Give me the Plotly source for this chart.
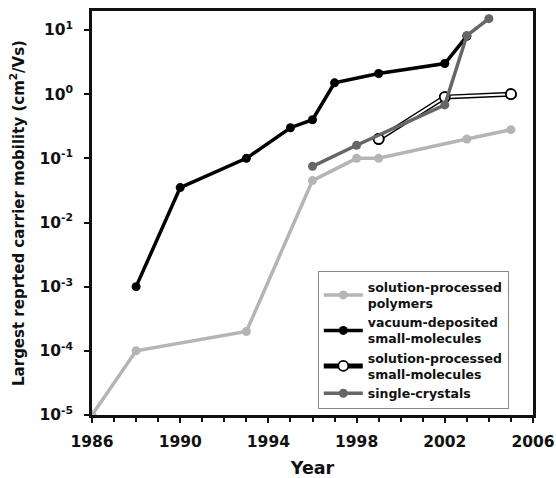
import plotly.graph_objects as go

# Record carrier mobilities (cm^2/Vs) by year for each class of organic semiconductor
poly_years = [1986, 1988, 1993, 1996, 1998, 1999, 2003, 2005]
poly_mob = [1e-5, 1e-4, 2e-4, 0.045, 0.1, 0.1, 0.2, 0.28]

vac_years = [1988, 1990, 1993, 1995, 1996, 1997, 1999, 2002, 2003]
vac_mob = [1e-3, 0.035, 0.1, 0.3, 0.4, 1.5, 2.1, 3.0, 8.0]

solsm_years = [1999, 2002, 2005]
solsm_mob = [0.2, 0.9, 1.0]

xtal_years = [1996, 1998, 2002, 2003, 2004]
xtal_mob = [0.075, 0.16, 0.68, 8.2, 15.0]

year_ticks = [1986, 1990, 1994, 1998, 2002, 2006]
mob_ticks = [1e-5, 1e-4, 1e-3, 1e-2, 1e-1, 1, 10]
mob_tick_text = ["10<sup>-5</sup>", "10<sup>-4</sup>", "10<sup>-3</sup>", "10<sup>-2</sup>",
                 "10<sup>-1</sup>", "10<sup>0</sup>", "10<sup>1</sup>"]

FONT = "DejaVu Sans"

fig = go.Figure()

fig.add_trace(go.Scatter(
    x=poly_years, y=poly_mob, mode="lines+markers",
    name="solution-processed<br>polymers",
    line=dict(color="#b5b5b5", width=3.5),
    marker=dict(color="#b5b5b5", size=9),
))

fig.add_trace(go.Scatter(
    x=vac_years, y=vac_mob, mode="lines+markers",
    name="vacuum-deposited<br>small-molecules",
    line=dict(color="#000000", width=3.5),
    marker=dict(color="#000000", size=9),
))

# outlined line: a thick black stroke with a thinner white stroke on top
fig.add_trace(go.Scatter(
    x=solsm_years, y=solsm_mob, mode="lines+markers",
    name="solution-processed<br>small-molecules",
    line=dict(color="#000000", width=5),
    marker=dict(color="white", size=10, line=dict(color="#000000", width=1.8)),
))
fig.add_trace(go.Scatter(
    x=solsm_years, y=solsm_mob, mode="lines+markers",
    showlegend=False, hoverinfo="skip",
    line=dict(color="white", width=2),
    marker=dict(color="white", size=10, line=dict(color="#000000", width=1.8)),
))

fig.add_trace(go.Scatter(
    x=xtal_years, y=xtal_mob, mode="lines+markers",
    name="single-crystals",
    line=dict(color="#666666", width=3.5),
    marker=dict(color="#666666", size=9),
))

fig.update_layout(
    width=556, height=478,
    margin=dict(l=92, r=23, t=11, b=63),
    paper_bgcolor="white", plot_bgcolor="white",
    font=dict(family=FONT, color="#111111", weight="bold"),
    legend=dict(
        x=0.512, y=0.356, xanchor="left", yanchor="top",
        bgcolor="white", bordercolor="#888888", borderwidth=1,
        font=dict(family=FONT, size=12.5, color="#111111", weight="bold"),
        tracegroupgap=0, itemwidth=39,
    ),
    xaxis=dict(
        range=[1986, 2006], tickmode="array", tickvals=year_ticks,
        minor=dict(dtick=1, ticks="outside", ticklen=4, tickcolor="#111111"),
        ticks="outside", ticklen=5, tickwidth=1.5, tickcolor="#111111",
        showline=True, linecolor="#111111", linewidth=2.5, mirror=True,
        showgrid=False, zeroline=False, automargin=False,
        tickfont=dict(family=FONT, size=15.5, weight="bold"),
        ticklabelstandoff=6,
        title=dict(text="Year", font=dict(family=FONT, size=17.5, weight="bold"), standoff=15),
    ),
    yaxis=dict(
        type="log", range=[-5, 1.296], tickmode="array",
        tickvals=mob_ticks, ticktext=mob_tick_text,
        ticks="outside", ticklen=5, tickwidth=1.5, tickcolor="#111111",
        showline=True, linecolor="#111111", linewidth=2.5, mirror=True,
        showgrid=False, zeroline=False, automargin=False,
        tickfont=dict(family=FONT, size=15.5, weight="bold"),
        ticklabelstandoff=8,
        title=dict(text="Largest reprted carrier mobility (cm<sup>2</sup>/Vs)",
                   font=dict(family=FONT, size=15, weight="bold"), standoff=12),
    ),
)

fig.write_html("out.html")
